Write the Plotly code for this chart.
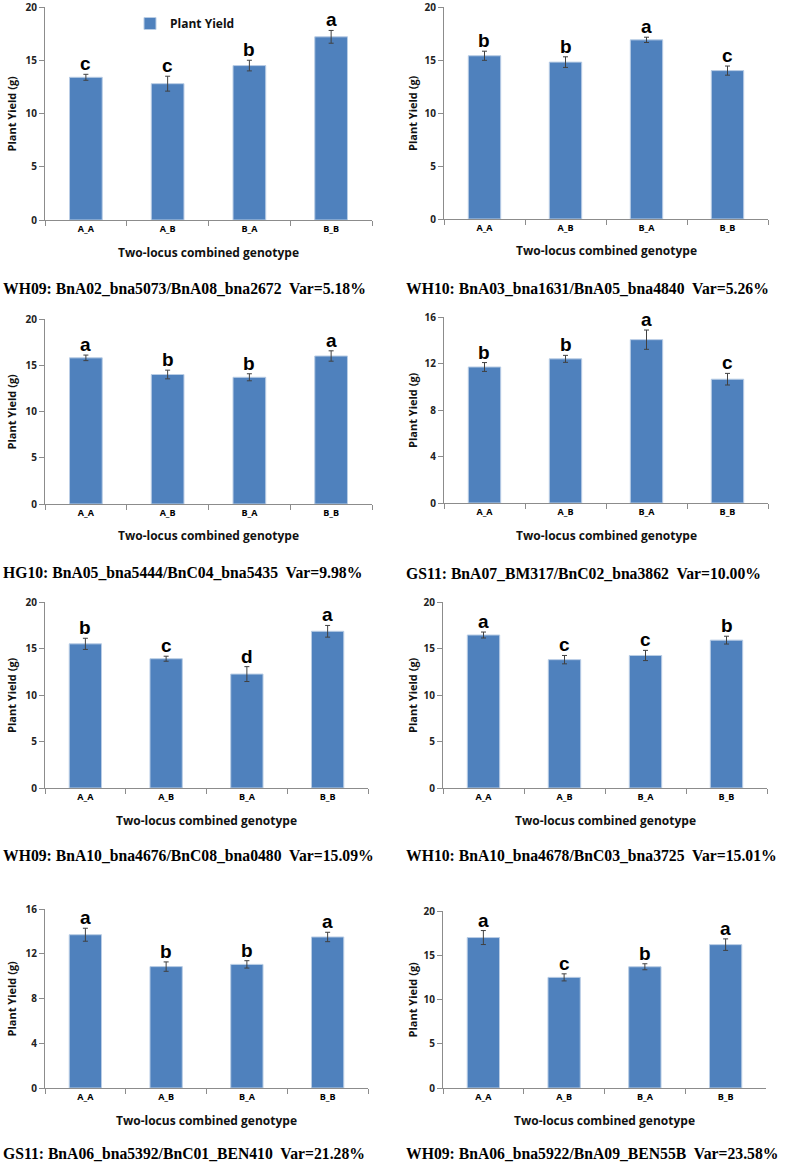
import plotly.graph_objects as go

genotypes = ["A_A", "A_B", "B_A", "B_B"]

captions = [
    "WH09: BnA02_bna5073/BnA08_bna2672  Var=5.18%",
    "WH10: BnA03_bna1631/BnA05_bna4840  Var=5.26%",
    "HG10: BnA05_bna5444/BnC04_bna5435  Var=9.98%",
    "GS11: BnA07_BM317/BnC02_bna3862  Var=10.00%",
    "WH09: BnA10_bna4676/BnC08_bna0480  Var=15.09%",
    "WH10: BnA10_bna4678/BnC03_bna3725  Var=15.01%",
    "GS11: BnA06_bna5392/BnC01_BEN410  Var=21.28%",
    "WH09: BnA06_bna5922/BnA09_BEN55B  Var=23.58%",
]

mean_1 = [13.4, 12.8, 14.5, 17.2]
err_1 = [0.28, 0.7, 0.5, 0.6]
letters_1 = ["c", "c", "b", "a"]

mean_2 = [15.4, 14.8, 16.9, 14.0]
err_2 = [0.43, 0.5, 0.25, 0.43]
letters_2 = ["b", "b", "a", "c"]

mean_3 = [15.8, 14.0, 13.7, 16.0]
err_3 = [0.3, 0.47, 0.38, 0.56]
letters_3 = ["a", "b", "b", "a"]

mean_4 = [11.7, 12.4, 14.05, 10.65]
err_4 = [0.38, 0.3, 0.83, 0.5]
letters_4 = ["b", "b", "a", "c"]

mean_5 = [15.5, 13.9, 12.25, 16.85]
err_5 = [0.6, 0.27, 0.8, 0.63]
letters_5 = ["b", "c", "d", "a"]

mean_6 = [16.45, 13.8, 14.25, 15.9]
err_6 = [0.32, 0.45, 0.55, 0.42]
letters_6 = ["a", "c", "c", "b"]

mean_7 = [13.7, 10.85, 11.05, 13.5]
err_7 = [0.58, 0.42, 0.33, 0.42]
letters_7 = ["a", "b", "b", "a"]

mean_8 = [17.0, 12.5, 13.7, 16.2]
err_8 = [0.79, 0.4, 0.34, 0.65]
letters_8 = ["a", "c", "b", "a"]

y_max = [20, 20, 20, 16, 20, 20, 16, 20]
y_step = [5, 5, 5, 4, 5, 5, 4, 5]

means = [mean_1, mean_2, mean_3, mean_4, mean_5, mean_6, mean_7, mean_8]
errs = [err_1, err_2, err_3, err_4, err_5, err_6, err_7, err_8]
letters = [letters_1, letters_2, letters_3, letters_4, letters_5, letters_6, letters_7, letters_8]

W, H = 787, 1167
# pixel boxes: (left, right, top, bottom)
boxes = [
    (45, 372, 7, 220),
    (444, 768, 7, 219),
    (45, 372, 319, 504),
    (444, 768, 317, 503),
    (45, 368, 602, 788),
    (443, 767, 602, 788),
    (45, 368, 909, 1088),
    (443, 766, 911, 1088),
]
caption_pos = [(1, 288), (404, 288), (1, 572), (404, 573), (1, 855), (404, 855), (1, 1153), (404, 1153)]
ytitle_x = [11, 412, 11, 412, 11, 412, 11, 412]

BAR = "#4F81BD"
AX = "#8C8C8C"
SANS = "Open Sans, Lato, sans-serif"

fig = go.Figure()
annotations = []
layout = {}

def px(xp):
    return xp / W

def py(yp):
    return 1 - yp / H

for i in range(8):
    k = "" if i == 0 else str(i + 1)
    l, r, t, b = boxes[i]
    fig.add_trace(go.Bar(
        x=genotypes, y=means[i],
        xaxis="x" + k, yaxis="y" + k,
        name="Plant Yield", showlegend=(i == 0),
        marker=dict(color=BAR, line=dict(color="#B9CDE5", width=1)),
        width=0.4,
        error_y=dict(type="data", array=errs[i], color="#404040", thickness=1, width=2.5),
    ))
    layout["xaxis" + k] = dict(
        domain=[px(l), px(r)], anchor="y" + k, automargin=False,
        showline=True, linecolor=AX, linewidth=1,
        ticks="outside", tickson="boundaries", ticklen=5, tickcolor=AX,
        tickfont=dict(family=SANS, size=9, color="#000", weight="bold"),
        ticklabeloverflow="allow",
        showgrid=False, zeroline=False, fixedrange=True,
    )
    layout["yaxis" + k] = dict(
        domain=[py(b), py(t)], anchor="x" + k, automargin=False,
        range=[0, y_max[i]], dtick=y_step[i], tick0=0,
        showline=True, linecolor=AX, linewidth=1,
        ticks="outside", ticklen=5, tickcolor=AX,
        tickfont=dict(family=SANS, size=10, color="#222", weight="bold"),
        ticklabeloverflow="allow",
        showgrid=False, zeroline=False, fixedrange=True,
    )
    # significance letters
    for g, m, e, s in zip(genotypes, means[i], errs[i], letters[i]):
        annotations.append(dict(
            x=g, y=m + e, xref="x" + k, yref="y" + k,
            text=s, showarrow=False, yanchor="bottom", yshift=-2,
            font=dict(family="Liberation Sans, Arial", size=19, color="#000", weight="bold"),
        ))
    # axis titles
    annotations.append(dict(
        x=(px(l) + px(r)) / 2, y=py(b + 32), xref="paper", yref="paper",
        text="Two-locus combined genotype", showarrow=False,
        xanchor="center", yanchor="middle",
        font=dict(family=SANS, size=12, color="#111", weight="bold"),
    ))
    annotations.append(dict(
        x=px(ytitle_x[i]), y=(py(t) + py(b)) / 2, xref="paper", yref="paper",
        text="Plant Yield (g)", showarrow=False, textangle=-90,
        xanchor="center", yanchor="middle",
        font=dict(family=SANS, size=11, color="#111", weight="bold"),
    ))
    cx, cy = caption_pos[i]
    annotations.append(dict(
        x=px(cx), y=py(cy), xref="paper", yref="paper",
        text=captions[i], showarrow=False, xanchor="left", yanchor="middle",
        font=dict(family="Liberation Serif, Times New Roman, serif", size=15.7, color="#000", weight="bold"),
    ))

fig.update_layout(
    width=W, height=H,
    margin=dict(l=0, r=0, t=0, b=0, autoexpand=False),
    paper_bgcolor="white", plot_bgcolor="white",
    annotations=annotations,
    showlegend=True,
    legend=dict(x=px(130), y=py(9), xanchor="left", yanchor="top",
                bgcolor="rgba(0,0,0,0)",
                font=dict(family=SANS, size=12, color="#111", weight="bold")),
    bargap=0.6,
    **layout,
)

fig.write_html(
    "out.html",
    config={"displayModeBar": False, "staticPlot": True},
    post_script="document.body.style.margin='0';document.body.style.overflow='hidden';",
)
